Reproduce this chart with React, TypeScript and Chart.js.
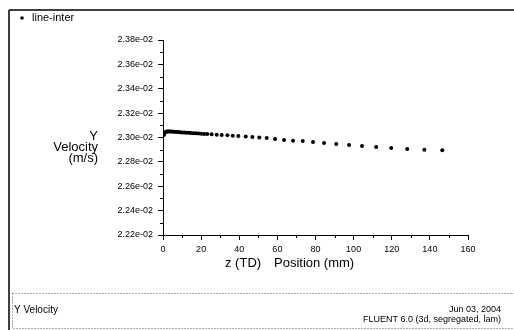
import { useEffect, useRef } from 'react';
import { Chart, registerables } from 'chart.js';

Chart.register(...registerables);

// ---- data ----
const zPositions = [
  0.5, 1.0, 1.5, 2.0, 2.6, 3.2, 3.9, 4.6, 5.4, 6.2, 7.1, 8.0, 9.0, 10.0, 11.1, 12.2, 13.4, 14.6,
  15.9, 17.2, 18.6, 20.1, 21.6, 23.2, 25.5, 28.2, 30.8, 33.8, 36.6, 39.5, 43.4, 46.9, 50.5, 54.4,
  58.8, 63.5, 68.2, 73.3, 78.7, 84.5, 90.9, 97.6, 104.4, 111.8, 119.7, 128.1, 137.1, 146.5,
];
const yVelocity = [
  0.02302, 0.02304, 0.023048, 0.02305, 0.02305, 0.02305, 0.02305, 0.023049, 0.023048, 0.023047,
  0.023046, 0.023045, 0.023044, 0.023042, 0.023041, 0.02304, 0.023038, 0.023037, 0.023035,
  0.023034, 0.023032, 0.023031, 0.023029, 0.023028, 0.023026, 0.023023, 0.023021, 0.023018,
  0.023015, 0.023013, 0.023008, 0.023005, 0.023001, 0.022996, 0.022988, 0.022979, 0.022974,
  0.022971, 0.022963, 0.022955, 0.022947, 0.022938, 0.02293, 0.022922, 0.022914, 0.022906,
  0.0229, 0.022895,
];
const xTickValues = [0, 20, 40, 60, 80, 100, 120, 140, 160];
const xMinorTickValues = [10, 30, 50, 70, 90, 110, 130, 150];
const yTickValues = [0.0222, 0.0224, 0.0226, 0.0228, 0.023, 0.0232, 0.0234, 0.0236, 0.0238];
const yMinorTickValues = [0.0223, 0.0225, 0.0227, 0.0229, 0.0231, 0.0233, 0.0235, 0.0237];
const yTickLabels = [
  '2.22e-02', '2.24e-02', '2.26e-02', '2.28e-02', '2.30e-02', '2.32e-02', '2.34e-02', '2.36e-02', '2.38e-02',
];
const legendLabel = 'line-inter';
const yTitleLines = ['Y', 'Velocity', '(m/s)'];
const xTitleParts = ['z (TD)', 'Position (mm)'];
const footerLeft = 'Y Velocity';
const footerDate = 'Jun 03, 2004';
const footerVersion = 'FLUENT 6.0 (3d, segregated, lam)';

const FONT = '"Liberation Sans", Arial, Helvetica, sans-serif';

const decorPlugin = {
  id: 'decor',
  afterDraw(chart: any) {
    const ctx = chart.ctx as CanvasRenderingContext2D;
    const xs = chart.scales.x;
    const ys = chart.scales.y;
    const area = chart.chartArea;
    ctx.save();
    ctx.fillStyle = '#000';
    ctx.strokeStyle = '#000';

    // outer frame: top and left lines
    ctx.lineWidth = 1.5;
    ctx.beginPath();
    ctx.moveTo(9, 10);
    ctx.lineTo(514, 10);
    ctx.moveTo(9, 10);
    ctx.lineTo(9, 330);
    ctx.stroke();

    // minor ticks
    ctx.lineWidth = 1;
    ctx.beginPath();
    yMinorTickValues.forEach((v) => {
      const py = Math.round(ys.getPixelForValue(v)) + 0.5;
      ctx.moveTo(area.left - 3, py);
      ctx.lineTo(area.left, py);
    });
    xMinorTickValues.forEach((v) => {
      const px = Math.round(xs.getPixelForValue(v)) + 0.5;
      ctx.moveTo(px, area.bottom);
      ctx.lineTo(px, area.bottom + 3);
    });
    ctx.stroke();

    // legend
    ctx.beginPath();
    ctx.arc(22, 18, 1.8, 0, Math.PI * 2);
    ctx.fill();
    ctx.font = `11px ${FONT}`;
    ctx.textBaseline = 'middle';
    ctx.textAlign = 'left';
    ctx.fillText(legendLabel, 32, 18);

    // y title
    ctx.font = `13px ${FONT}`;
    ctx.textAlign = 'right';
    yTitleLines.forEach((line, i) => {
      ctx.fillText(line, 98, 136 + i * 11);
    });

    // x title
    ctx.textAlign = 'left';
    ctx.font = `13px ${FONT}`;
    ctx.fillText(xTitleParts[0], 225, 263);
    ctx.fillText(xTitleParts[1], 274, 263);

    // footer box
    ctx.save();
    ctx.strokeStyle = '#555';
    ctx.lineWidth = 1;
    ctx.setLineDash([1, 2]);
    ctx.beginPath();
    ctx.moveTo(12.5, 293.5);
    ctx.lineTo(514, 293.5);
    ctx.moveTo(12.5, 293.5);
    ctx.lineTo(12.5, 328.5);
    ctx.lineTo(514, 328.5);
    ctx.stroke();
    ctx.restore();

    // footer text
    ctx.font = `10px ${FONT}`;
    ctx.textAlign = 'left';
    ctx.fillText(footerLeft, 14, 310);
    ctx.font = `9px ${FONT}`;
    ctx.textAlign = 'right';
    ctx.fillText(footerDate, 501, 310);
    ctx.fillText(footerVersion, 501, 320);

    ctx.restore();
  },
};

export default function App() {
  const canvasRef = useRef<HTMLCanvasElement | null>(null);

  useEffect(() => {
    if (!canvasRef.current) return;
    const chart = new Chart(canvasRef.current, {
      type: 'scatter',
      data: {
        datasets: [
          {
            label: legendLabel,
            data: zPositions.map((z, i) => ({ x: z, y: yVelocity[i] })),
            pointRadius: 2,
            pointBackgroundColor: '#000',
            pointBorderColor: '#000',
            pointBorderWidth: 0,
            showLine: false,
          },
        ],
      },
      options: {
        responsive: false,
        animation: false,
        events: [],
        layout: { padding: { left: 0, top: 40, right: 46, bottom: 55 } },
        plugins: {
          legend: { display: false },
          tooltip: { enabled: false },
          title: { display: false },
        },
        scales: {
          x: {
            type: 'linear',
            min: 0,
            max: 160,
            afterBuildTicks: (s: any) => {
              s.ticks = xTickValues.map((v) => ({ value: v }));
            },
            afterFit: (s: any) => {
              s.height = 40;
            },
            grid: { drawOnChartArea: false, drawTicks: true, tickLength: 5, color: '#000' },
            border: { display: true, color: '#000', width: 1 },
            ticks: {
              padding: 4,
              color: '#000',
              font: { family: FONT, size: 9 },
              maxRotation: 0,
              callback: (v: any) => String(v),
            },
          },
          y: {
            type: 'linear',
            min: 0.0222,
            max: 0.0238,
            afterBuildTicks: (s: any) => {
              s.ticks = yTickValues.map((v) => ({ value: v }));
            },
            afterFit: (s: any) => {
              s.width = 163;
            },
            grid: { drawOnChartArea: false, drawTicks: true, tickLength: 5, color: '#000' },
            border: { display: true, color: '#000', width: 1 },
            ticks: {
              padding: 5,
              color: '#000',
              font: { family: FONT, size: 9 },
              callback: (_v: any, i: number) => yTickLabels[i],
            },
          },
        },
      },
      plugins: [decorPlugin],
    });
    return () => chart.destroy();
  }, []);

  return (
    <div style={{ position: 'absolute', left: 0, top: 0, width: 514, height: 330, background: '#fff' }}>
      <canvas ref={canvasRef} width={514} height={330} style={{ width: 514, height: 330, display: 'block' }} />
    </div>
  );
}
